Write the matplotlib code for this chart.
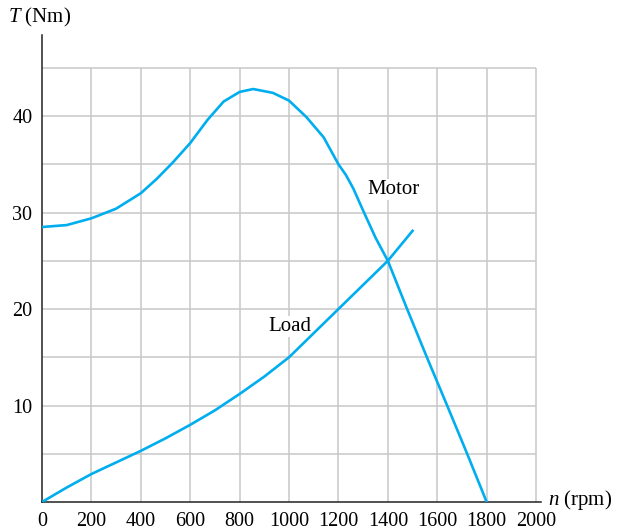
import matplotlib
matplotlib.use("Agg")
import matplotlib.pyplot as plt

# motor torque curve (rpm, Nm)
motor_n = [0, 100, 200, 300, 400, 465, 530, 600, 670, 735, 800, 855, 935, 1000,
           1070, 1140, 1200, 1230, 1260, 1300, 1350, 1400, 1478, 1558, 1640, 1721, 1800]
motor_t = [28.5, 28.7, 29.4, 30.4, 32.0, 33.5, 35.2, 37.2, 39.6, 41.5, 42.5, 42.8, 42.4, 41.6,
           39.9, 37.8, 35.0, 33.9, 32.5, 30.2, 27.4, 25.0, 20.0, 15.0, 10.0, 5.0, 0.0]

# load torque curve
load_n = [0, 100, 200, 300, 400, 500, 600, 700, 800, 900, 1000, 1100, 1200, 1300, 1400, 1500]
load_t = [0.0, 1.5, 2.9, 4.1, 5.3, 6.6, 8.0, 9.5, 11.2, 13.0, 15.0, 17.5, 20.0, 22.5, 25.0, 28.1]

x_ticks = list(range(0, 2001, 200))
y_ticks = [10, 20, 30, 40]

plt.rcParams["font.family"] = "Liberation Serif"
plt.rcParams["mathtext.fontset"] = "custom"
plt.rcParams["mathtext.rm"] = "Liberation Serif"
plt.rcParams["mathtext.it"] = "Liberation Serif:italic"

fig = plt.figure(figsize=(6.23, 5.31), dpi=100)
ax = fig.add_axes([0.0674, 0.0546, 0.801, 0.8795])

color = "#00aeef"
grid_color = "#c8c8c8"

# grid only inside 0..2000 x 0..45
ax.vlines(x_ticks[1:], 0, 45, color=grid_color, lw=1.1, zorder=1)
ax.hlines(range(5, 46, 5), 0, 2000, color=grid_color, lw=1.1, zorder=1)

ax.plot(motor_n, motor_t, color=color, lw=1.9, zorder=3)
ax.plot(load_n, load_t, color=color, lw=1.9, zorder=3)

# labels sit on white patches that hide the grid but not the curves
ax.text(1421, 32.4, "Motor", fontsize=15, ha="center", va="center",
        bbox=dict(facecolor="white", edgecolor="none", pad=0.5), zorder=2)
ax.text(1004, 18.2, "Load", fontsize=15, ha="center", va="center",
        bbox=dict(facecolor="white", edgecolor="none", pad=0.5), zorder=2)

ax.set_xlim(0, 2020)
ax.set_ylim(0, 48.4)
ax.set_xticks(x_ticks)
ax.set_yticks(y_ticks)
ax.tick_params(length=0, labelsize=14.5, pad=7)
for s in ["top", "right"]:
    ax.spines[s].set_visible(False)
for s in ["left", "bottom"]:
    ax.spines[s].set_linewidth(1.1)
    ax.spines[s].set_color("#222222")

fig.text(8 / 623, 1 - 17 / 531, "$T$ (Nm)", fontsize=15, ha="left", va="center")
fig.text(548 / 623, 1 - 500 / 531, "$n$ (rpm)", fontsize=15, ha="left", va="center")

fig.savefig("out.png", dpi=100)
